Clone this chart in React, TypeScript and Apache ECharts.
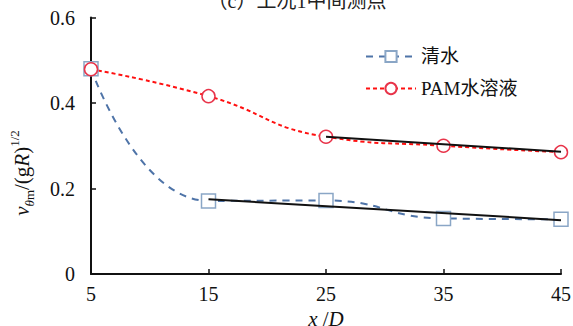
import React, { useEffect, useRef } from "react";
import * as echarts from "echarts";

const categories = ["5", "15", "25", "35", "45"];
const clearWater = [0.48, 0.171, 0.172, 0.13, 0.128];
const pamSolution = [0.479, 0.416, 0.321, 0.3, 0.285];
const clearTrend = [null, 0.175, null, null, 0.126];
const pamTrend = [null, null, 0.321, null, 0.286];
const yTicks = [0, 0.2, 0.4, 0.6];

const SERIF = "Liberation Serif, DejaVu Serif, serif";
const CJK = "Liberation Serif, Noto Sans CJK SC, serif";

export default function App() {
  const ref = useRef<HTMLDivElement>(null);
  useEffect(() => {
    const chart = echarts.init(ref.current!, null, { renderer: "svg" });
    chart.setOption({
      animation: false,
      backgroundColor: "#ffffff",
      textStyle: { fontFamily: SERIF },
      grid: { left: 91, right: 12, top: 17.5, bottom: 52, containLabel: false, outerBoundsMode: "none" },
      legend: {
        data: ["清水", "PAM水溶液"],
        orient: "vertical",
        left: 360,
        top: 42,
        itemWidth: 50,
        itemHeight: 14,
        itemGap: 13,
        textStyle: { fontFamily: CJK, fontSize: 19, color: "#111" },
      },
      graphic: [
        {
          type: "text",
          x: 297,
          y: 1,
          style: {
            text: "（c）工况1中间测点",
            fontFamily: CJK,
            fontSize: 20,
            fill: "#222",
            align: "center",
            verticalAlign: "middle",
          },
        },
        {
          type: "text",
          x: 22,
          y: 173,
          rotation: Math.PI / 2,
          style: {
            text: "{i|v}{sub|θ}{subm|m}{n|/(g}{i|R}{n|)}{sup|1/2}",
            align: "center",
            verticalAlign: "middle",
            fill: "#111",
            rich: {
              i: { fontFamily: SERIF, fontSize: 21, fontStyle: "italic", lineHeight: 28, verticalAlign: "middle" },
              n: { fontFamily: SERIF, fontSize: 21, lineHeight: 28, verticalAlign: "middle" },
              sub: { fontFamily: SERIF, fontSize: 13, fontStyle: "italic", lineHeight: 28, verticalAlign: "bottom" },
              subm: { fontFamily: SERIF, fontSize: 13, lineHeight: 28, verticalAlign: "bottom" },
              sup: { fontFamily: SERIF, fontSize: 13, lineHeight: 28, verticalAlign: "top" },
            },
          },
        },
      ],
      xAxis: {
        type: "category",
        data: categories,
        boundaryGap: false,
        name: "{i|x}{n| /}{i|D}",
        nameLocation: "middle",
        nameGap: 32,
        nameTextStyle: {
          fontFamily: SERIF,
          rich: {
            i: { fontFamily: SERIF, fontSize: 21, fontStyle: "italic", color: "#111" },
            n: { fontFamily: SERIF, fontSize: 21, color: "#111" },
          },
        },
        axisLine: { lineStyle: { color: "#111", width: 2 } },
        axisTick: { inside: true, length: 5, alignWithLabel: true, lineStyle: { color: "#111", width: 1.5 } },
        axisLabel: {
          margin: 10,
          formatter: (v: string) => `{t|${v}}`,
          rich: { t: { fontFamily: SERIF, fontSize: 20, color: "#111" } },
        },
        splitLine: { show: false },
      },
      yAxis: {
        type: "value",
        min: 0,
        max: 0.6,
        interval: 0.2,
        axisLine: { show: true, lineStyle: { color: "#111", width: 2 } },
        axisTick: { show: true, inside: true, length: 5, lineStyle: { color: "#111", width: 1.5 } },
        axisLabel: {
          margin: 16,
          formatter: (v: number) => {
            const t = yTicks.find((x) => Math.abs(x - v) < 1e-9);
            return t === undefined ? "" : `{t|${t}}`;
          },
          rich: { t: { fontFamily: SERIF, fontSize: 20, color: "#111" } },
        },
        splitLine: { show: false },
      },
      series: [
        {
          name: "清水",
          type: "line",
          data: clearWater,
          smooth: 0.5,
          symbol: "rect",
          symbolSize: 14,
          lineStyle: { color: "#4f74a8", width: 2, type: [7, 6] },
          itemStyle: { color: "#ffffff", borderColor: "#8aa6c6", borderWidth: 1.5 },
          z: 3,
        },
        {
          name: "PAM水溶液",
          type: "line",
          data: pamSolution,
          smooth: 0.5,
          symbol: "circle",
          symbolSize: 13,
          lineStyle: { color: "#ff1010", width: 2, type: [4, 3] },
          itemStyle: { color: "#ffffff", borderColor: "#e8344a", borderWidth: 1.5 },
          z: 3,
        },
        {
          name: "trend1",
          type: "line",
          data: clearTrend,
          connectNulls: true,
          symbol: "none",
          lineStyle: { color: "#111", width: 2 },
          silent: true,
          z: 4,
        },
        {
          name: "trend2",
          type: "line",
          data: pamTrend,
          connectNulls: true,
          symbol: "none",
          lineStyle: { color: "#111", width: 2 },
          silent: true,
          z: 4,
        },
      ],
    });
    return () => chart.dispose();
  }, []);
  return <div ref={ref} style={{ width: 573, height: 326, position: "absolute", left: 0, top: 0 }} />;
}
